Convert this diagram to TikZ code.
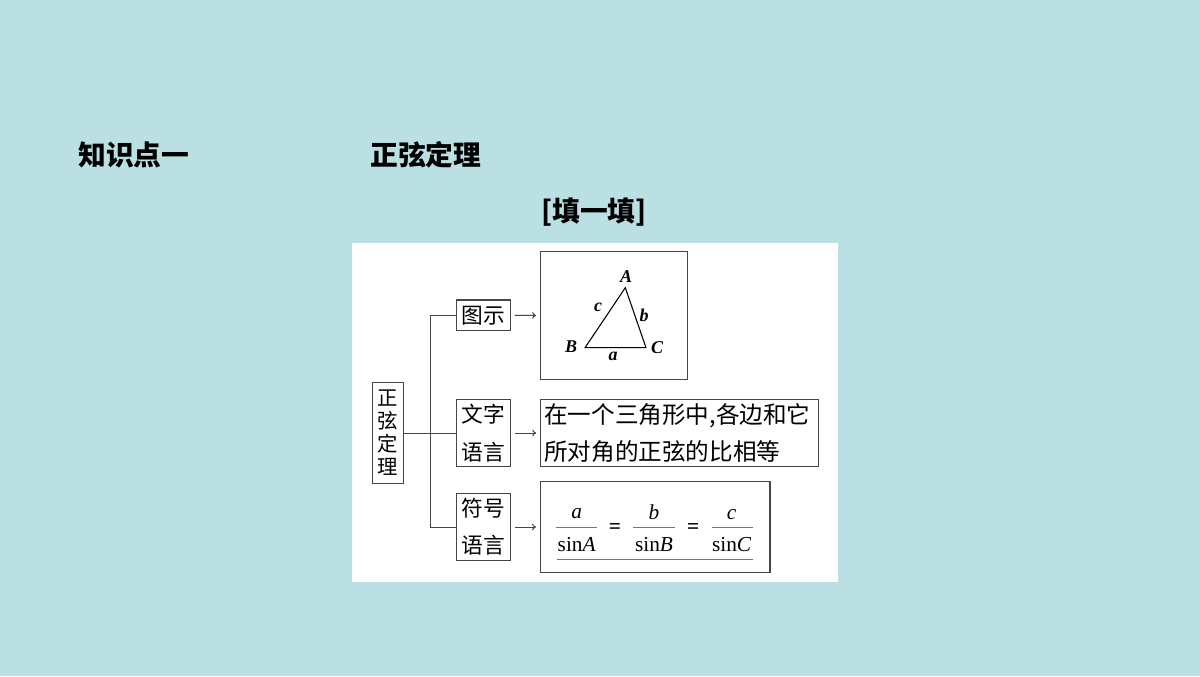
\documentclass[tikz,border=0pt]{standalone}
\usepackage{fontspec}
\setmainfont{Liberation Serif}
\newfontfamily\cjk{Noto Sans CJK SC}
\usetikzlibrary{arrows.meta}
\definecolor{bgc}{RGB}{187,224,227}
\definecolor{boxline}{RGB}{70,70,70}
\definecolor{barc}{RGB}{120,120,120}
\tikzset{
  titletext/.style={inner sep=0pt,font=\cjk\bfseries\fontsize{20.8}{24}\selectfont,text=black},
  framebox/.style={draw=boxline,line width=0.8pt,inner sep=0pt,fill=white},
  lbl/.style={framebox,minimum width=40.5pt,align=center,font=\cjk\fontsize{16.3}{28}\selectfont},
  conn/.style={draw=boxline,line width=0.75pt},
  arr/.style={conn,-{To[length=3pt,width=5pt]}},
  vert/.style={inner sep=0pt,font=\bfseries\itshape\fontsize{13.5}{15}\selectfont},
  mth/.style={inner sep=0pt,font=\fontsize{16}{18}\selectfont},
  fbar/.style={draw=barc,line width=1pt}
}
\begin{document}
\begin{tikzpicture}[x=0.75pt,y=-0.75pt]
\fill[bgc] (0,0) rectangle (1200,676);
\useasboundingbox (0,0) rectangle (1200,676);
% titles
\node[titletext,anchor=west] (t1) at (78,155) {知识点一};
\node[titletext,anchor=west] (t2) at (370,155) {正弦定理};
\node[titletext] (t3) at (594,212) {[填一填]};
% panel
\fill[white] (352,243) rectangle (838,582);
% main box
\node[framebox,minimum width=23pt,minimum height=75.5pt,align=center,
  font=\cjk\fontsize{15.3}{17.3}\selectfont] (main) at (388,433) {正\\弦\\定\\理};
% label boxes
\node[lbl,minimum height=23pt] (tushi) at (483.7,315.3) {图示};
\node[lbl,minimum height=50.5pt] (wenzi) at (483.7,433) {文字\\语言};
\node[lbl,minimum height=50.5pt] (fuhao) at (483.7,527) {符号\\语言};
% right boxes
\node[framebox,minimum width=110pt,minimum height=95.7pt] (trib) at (614,315.5) {};
\node[framebox,minimum width=208.2pt,minimum height=50.5pt] (textb) at (679.5,433) {};
\node[framebox,minimum width=172pt,minimum height=68.25pt] (formb) at (655.3,527.2) {};
\node[inner sep=0pt,anchor=west,align=left,font=\cjk\fontsize{17.7}{28}\selectfont] (txt) at (544,433)
  {在一个三角形中,各边和它\\所对角的正弦的比相等};
% connectors
\coordinate (j) at (430,433);
\draw[conn] (main.east) -- (wenzi.west);
\draw[conn] (tushi.west) -- (tushi.west -| j) -- (fuhao.west -| j) -- (fuhao.west);
\draw[arr] ([xshift=2.5pt]tushi.east) -- ([xshift=-3pt]trib.west);
\draw[arr] ([xshift=2.5pt]wenzi.east) -- ([xshift=-3pt]textb.west);
\draw[arr] ([xshift=2.5pt]fuhao.east) -- ([xshift=-3pt]formb.west |- fuhao.east);
% triangle
\coordinate (A) at (625.3,287.7);
\coordinate (B) at (585,347.7);
\coordinate (C) at (646,347.7);
\draw[black,line width=0.8pt,line join=miter] (A) -- (B) -- (C) -- cycle;
\node[vert] (lA) at (626,277) {A};
\node[vert] (lB) at (571,347) {B};
\node[vert] (lC) at (657,348) {C};
\node[vert] (la) at (613,356) {a};
\node[vert] (lb) at (644,315) {b};
\node[vert] (lc) at (598,307) {c};
% formula
\node[mth] (n1) at (576.7,513.3) {\textit{a}};
\node[mth] (d1) at (576.7,545) {sin\textit{A}};
\node[mth] (e1) at (615,528.3) {\textbf{=}};
\node[mth] (n2) at (654,512.3) {\textit{b}};
\node[mth] (d2) at (654,545) {sin\textit{B}};
\node[mth] (e2) at (693.3,528.3) {\textbf{=}};
\node[mth] (n3) at (731.7,514.3) {\textit{c}};
\node[mth] (d3) at (731.7,545) {sin\textit{C}};
\draw[fbar] (556,527.3) -- (596.7,527.3);
\draw[fbar] (633.3,527.3) -- (675,527.3);
\draw[fbar] (711.7,527.3) -- (752.7,527.3);
\draw[fbar] (556.7,559.3) -- (752.7,559.3);
\end{tikzpicture}
\end{document}
